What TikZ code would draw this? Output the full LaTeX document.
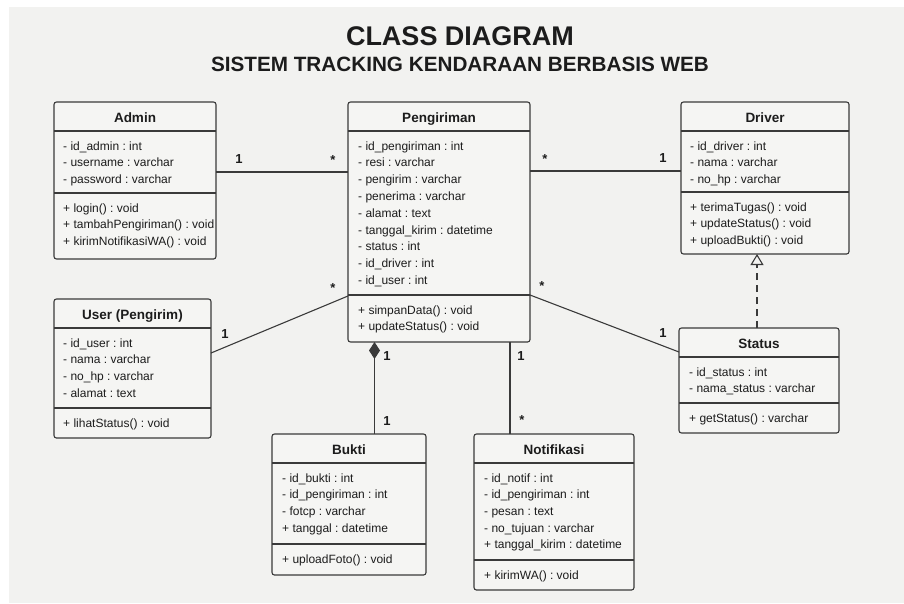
\documentclass[tikz,border=0pt]{standalone}
\usepackage{fontspec}
\setmainfont{Liberation Sans}
\usetikzlibrary{arrows.meta,positioning}
\frenchspacing

\definecolor{paper}{HTML}{F2F2F0}
\definecolor{boxfill}{HTML}{F5F5F3}
\definecolor{ink}{HTML}{1C1C1C}
\definecolor{edge}{HTML}{3A3A3A}

\tikzstyle{classbox} = [draw=edge, fill=boxfill, line width=1.1pt, rounded corners=2.5pt, anchor=north west, inner sep=0pt, outer sep=0pt]
\tikzstyle{sepline} = [draw=edge, line width=1.1pt]
\tikzstyle{classname} = [anchor=base, inner sep=0pt, text=ink, font=\fontsize{13.5}{15}\selectfont\bfseries]
\tikzstyle{member} = [anchor=base west, inner sep=0pt, text=ink, font=\fontsize{12}{14}\selectfont]
\tikzstyle{mult} = [inner sep=0pt, text=ink, font=\fontsize{13}{14}\selectfont\bfseries]
\tikzstyle{assoc} = [draw=edge, line width=1.1pt]

\begin{document}
\begin{tikzpicture}[x=1pt, y=-1pt]
    \fill[white] (0,0) rectangle (904,603);
    \fill[paper] (9,7) rectangle (904,603);
    \useasboundingbox (0,0) rectangle (904,603);

    \node[anchor=base, text=ink, font=\fontsize{27}{30}\selectfont\bfseries] (title) at (460,45) {CLASS DIAGRAM};
    \node[anchor=base, text=ink, font=\fontsize{20.7}{24}\selectfont\bfseries] (subtitle) at (460,71) {SISTEM TRACKING KENDARAAN BERBASIS WEB};

    % Admin
    \node[classbox, minimum width=162, minimum height=157] (admin) at (54,102) {};
    \node[classname] (admin_name) at ([yshift=-20]admin.north) {Admin};
    \draw[sepline] (admin.west |- 0,131) -- (admin.east |- 0,131);
    \draw[sepline] (admin.west |- 0,193) -- (admin.east |- 0,193);
    \foreach \t [count=\i] in {- id\_admin : int, - username : varchar, - password : varchar}
        \node[member] (admin_a\i) at (63,{131+2.3+\i*16.7}) {\t};
    \foreach \t [count=\i] in {+ login() : void, + tambahPengiriman() : void, + kirimNotifikasiWA() : void}
        \node[member] (admin_m\i) at (63,{193+2.3+\i*16.7}) {\t};

    % Pengiriman
    \node[classbox, minimum width=182, minimum height=240] (peng) at (348,102) {};
    \node[classname] (peng_name) at ([yshift=-20]peng.north) {Pengiriman};
    \draw[sepline] (peng.west |- 0,131) -- (peng.east |- 0,131);
    \draw[sepline] (peng.west |- 0,295) -- (peng.east |- 0,295);
    \foreach \t [count=\i] in {- id\_pengiriman : int, - resi : varchar, - pengirim : varchar, - penerima : varchar, - alamat : text, - tanggal\_kirim : datetime, - status : int, - id\_driver : int, - id\_user : int}
        \node[member] (peng_a\i) at (358,{131+2.3+\i*16.8}) {\t};
    \foreach \t [count=\i] in {+ simpanData() : void, + updateStatus() : void}
        \node[member] (peng_m\i) at (358,{295+2.3+\i*16.7}) {\t};

    % Driver
    \node[classbox, minimum width=168, minimum height=152] (driver) at (681,102) {};
    \node[classname] (driver_name) at ([yshift=-20]driver.north) {Driver};
    \draw[sepline] (driver.west |- 0,131) -- (driver.east |- 0,131);
    \draw[sepline] (driver.west |- 0,192) -- (driver.east |- 0,192);
    \foreach \t [count=\i] in {- id\_driver : int, - nama : varchar, - no\_hp : varchar}
        \node[member] (driver_a\i) at (690,{131+2.3+\i*16.7}) {\t};
    \foreach \t [count=\i] in {+ terimaTugas() : void, + updateStatus() : void, + uploadBukti() : void}
        \node[member] (driver_m\i) at (690,{192+2.3+\i*16.7}) {\t};

    % User (Pengirim)
    \node[classbox, minimum width=157, minimum height=139] (user) at (54,299) {};
    \node[classname] (user_name) at ([yshift=-20]user.north) {User (Pengirim)};
    \draw[sepline] (user.west |- 0,328) -- (user.east |- 0,328);
    \draw[sepline] (user.west |- 0,408) -- (user.east |- 0,408);
    \foreach \t [count=\i] in {- id\_user : int, - nama : varchar, - no\_hp : varchar, - alamat : text}
        \node[member] (user_a\i) at (63,{328+2.3+\i*16.7}) {\t};
    \node[member] (user_m1) at (63,427) {+ lihatStatus() : void};

    % Status
    \node[classbox, minimum width=160, minimum height=105] (status) at (679,328) {};
    \node[classname] (status_name) at ([yshift=-20]status.north) {Status};
    \draw[sepline] (status.west |- 0,357) -- (status.east |- 0,357);
    \draw[sepline] (status.west |- 0,403) -- (status.east |- 0,403);
    \foreach \t [count=\i] in {- id\_status : int, - nama\_status : varchar}
        \node[member] (status_a\i) at (689,{357+2.3+\i*16.7}) {\t};
    \node[member] (status_m1) at (689,422) {+ getStatus() : varchar};

    % Bukti
    \node[classbox, minimum width=154, minimum height=141] (bukti) at (272,434) {};
    \node[classname] (bukti_name) at ([yshift=-20]bukti.north) {Bukti};
    \draw[sepline] (bukti.west |- 0,463) -- (bukti.east |- 0,463);
    \draw[sepline] (bukti.west |- 0,544) -- (bukti.east |- 0,544);
    \foreach \t [count=\i] in {- id\_bukti : int, - id\_pengiriman : int, - fotcp : varchar, + tanggal : datetime}
        \node[member] (bukti_a\i) at (282,{463+2.3+\i*16.7}) {\t};
    \node[member] (bukti_m1) at (282,563) {+ uploadFoto() : void};

    % Notifikasi
    \node[classbox, minimum width=160, minimum height=156] (notif) at (474,434) {};
    \node[classname] (notif_name) at ([yshift=-20]notif.north) {Notifikasi};
    \draw[sepline] (notif.west |- 0,463) -- (notif.east |- 0,463);
    \draw[sepline] (notif.west |- 0,560) -- (notif.east |- 0,560);
    \foreach \t [count=\i] in {- id\_notif : int, - id\_pengiriman : int, - pesan : text, - no\_tujuan : varchar, + tanggal\_kirim : datetime}
        \node[member] (notif_a\i) at (484,{463+2.3+\i*16.7}) {\t};
    \node[member] (notif_m1) at (484,579) {+ kirimWA() : void};

    % relations
    \draw[assoc] (admin.east |- 0,172) -- (peng.west |- 0,172);
    \draw[assoc] (peng.east |- 0,171) -- (driver.west |- 0,171);
    \draw[assoc] (user.east |- 0,353) -- (peng.west |- 0,296);
    \draw[assoc] (peng.east |- 0,295) -- (status.west |- 0,352);
    \draw[assoc, {Diamond[length=17pt, width=11pt]}-] (peng.south -| 374.5,0) -- (bukti.north -| 374.5,0);
    \draw[assoc] (peng.south -| 510,0) -- (notif.north -| 510,0);
    \draw[assoc, dash pattern=on 7pt off 5pt, -{Triangle[open, fill=paper, length=11pt, width=13pt]}] (status.north -| 757,0) -- (driver.south -| 757,0);

    \node[mult] (m_admin) at (239,159) {1};
    \node[mult] (m_peng_admin) at (333,160) {*};
    \node[mult] (m_peng_driver) at (545,159) {*};
    \node[mult] (m_driver) at (663,158) {1};
    \node[mult] (m_peng_user) at (333,288) {*};
    \node[mult] (m_user) at (225,334) {1};
    \node[mult] (m_peng_status) at (542,286) {*};
    \node[mult] (m_status) at (663,333) {1};
    \node[mult] (m_peng_bukti) at (387,356) {1};
    \node[mult] (m_bukti) at (387,421) {1};
    \node[mult] (m_peng_notif) at (521,356) {1};
    \node[mult] (m_notif) at (522,420) {*};
\end{tikzpicture}
\end{document}
